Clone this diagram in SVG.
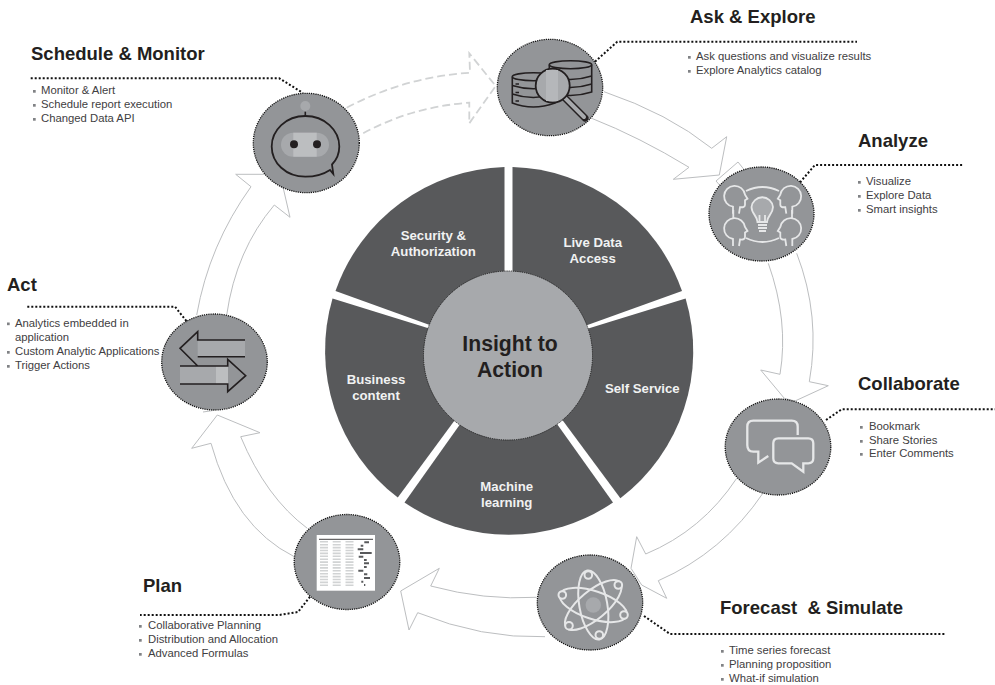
<svg xmlns="http://www.w3.org/2000/svg" width="995" height="685" viewBox="0 0 995 685">
<style>
text{font-family:"Liberation Sans",Arial,sans-serif}
.t{font-size:18.5px;font-weight:700;fill:#231f20}
.l{font-size:11.3px;fill:#414042}
.w{font-size:13.2px;font-weight:700;fill:#f1f2f2;text-anchor:middle}
.c{font-size:21.2px;font-weight:700;fill:#231f20;text-anchor:middle}
.seg{fill:#58595b}
.n{fill:#939598;stroke:#111;stroke-width:1.300;stroke-dasharray:1.200 1}
.a{fill:#fff;stroke:#bcbec0;stroke-width:1}
.d{fill:#fff;stroke:#d1d3d4;stroke-width:1.800;stroke-dasharray:8 4}
.ld{fill:none;stroke:#111;stroke-width:2;stroke-dasharray:2 2}
.k{fill:none;stroke:#231f20;stroke-width:1.600}
.g{fill:none;stroke:#e6e7e8;stroke-width:1.800}
.b{fill:#808285}
</style>
<defs>
<path id="head" d="M-3,17V10A10.500,10.500 0 1 1 9,-2L11.500,2 9,3.500V8Q9,11 4,10.500L3,17"/>
</defs>

<g id="connectors">
<path class="d" d="M346.700,107.700Q405,77 470,72.700L469.300,53.300 495.700,86 469.300,123.300V102.700Q410,107 360,135"/>
<path class="a" d="M604,91.700Q668.200,113.400 711.700,148.300L726.700,136.700 719.300,175 673.300,179.300 689,167.300Q639.600,137.200 591.700,118.300"/>
<path class="a" d="M716,181L738,162 746,172 724,190Z"/>
<path class="a" d="M768.300,263.300Q788.900,321.200 780,374.300L760.700,370 784.300,398.300 795,401 828.300,385.700 809.300,381.700Q821,316.500 796.700,253.300"/>
<path class="a" d="M736.700,478.300Q702.200,530.500 645.700,554L636.700,536.700 631,568.300 641.700,585 666.700,598.300 658.300,580.700Q722.800,552.600 763.300,492.700"/>
<path class="a" d="M536.700,597.300Q484,600.500 430.700,586L439.300,568.300 400.700,591 409,630 417.700,612.700Q481.500,638.700 545,636.700"/>
<path class="a" d="M294.300,556.700Q234,526.600 211,443.300L191.700,448.300 217.300,415 260,432.700 240.700,436.700Q266,497.500 307.300,528.300"/>
<path class="a" d="M203,412L213,410.500"/>
<path class="a" d="M196.700,315Q209,245 251,186.700L235.700,174.300H266.700L283.300,188.300 290,217.300 274.300,205Q236,250 226.700,315"/>
<path class="ld" d="M30.700,78.300H279.300L303,93"/>
<path class="ld" d="M595,61.700L617.300,41.700H857"/>
<path class="ld" d="M800,182.300L815,165H964"/>
<path class="ld" d="M826,420L841.700,409.300H995"/>
<path class="ld" d="M644,616L670,634H945"/>
<path class="ld" d="M310,596.700L298,612 279,615H140"/>
<path class="ld" d="M27.300,306.700H175L188,323"/>
</g>

<g id="wheel">
<g id="seg-live"><path class="seg" d="M512.500,167A185,185 0 0 1 682,291L512.500,352Z"/><text class="w" x="592.700" y="246.700">Live Data</text><text class="w" x="592.700" y="262.700">Access</text></g>
<g id="seg-self"><path class="seg" d="M685.600,298.600A185,185 0 0 1 620.400,498.300L512,352Z"/><text class="w" x="642.300" y="392.700">Self Service</text></g>
<g id="seg-ml"><path class="seg" d="M613,502.500A185,185 0 0 1 404.500,502.500L508.500,356Z"/><text class="w" x="506.700" y="491">Machine</text><text class="w" x="506.700" y="506.700">learning</text></g>
<g id="seg-biz"><path class="seg" d="M397.800,497.500A185,185 0 0 1 332.500,298.600L505,352Z"/><text class="w" x="376" y="384">Business</text><text class="w" x="376" y="400">content</text></g>
<g id="seg-sec"><path class="seg" d="M335.500,291A185,185 0 0 1 504.500,167V352Z"/><text class="w" x="433.300" y="240">Security &amp;</text><text class="w" x="433.300" y="256">Authorization</text></g>
<g id="hub"><circle cx="508" cy="355.500" r="84.500" fill="#a7a9ac" stroke="#222" stroke-width="1" stroke-dasharray="1.200 1"/><text class="c" x="510" y="350.700">Insight to</text><text class="c" x="510" y="376.700">Action</text></g>
</g>

<g id="node-ask">
<ellipse class="n" cx="550" cy="87.500" rx="52.700" ry="48.200"/>
<g class="k"><path d="M549.300,64.700V92Q570,99 591.700,92V64.700"/><ellipse cx="570.500" cy="64.700" rx="21.200" ry="4"/><path d="M549.300,76Q570,83 591.700,76M549.300,84Q570,91 591.700,84"/>
<path d="M512.300,76.700V103Q533,111 555,103V76.700"/><ellipse cx="533.500" cy="76.700" rx="21.200" ry="4" fill="#939598" style="fill:#939598"/><path d="M512.300,85.500Q533,92 555,85.500M512.300,94Q533,101 555,94"/></g>
<path d="M515.500,84H519M515.500,92.500H519M515.500,101H519" class="k"/>
<path d="M564,97L585,118" stroke="#231f20" stroke-width="7" stroke-linecap="round"/><path d="M565,98L584,117" stroke="#a7a9ac" stroke-width="4" stroke-linecap="round"/>
<circle cx="552.700" cy="85.700" r="17" fill="#a7a9ac" stroke="#231f20" stroke-width="1.800"/>
<rect x="546" y="70" width="12" height="31" fill="#b5b7ba"/>
<text class="t" x="690" y="23">Ask &amp; Explore</text>
<rect class="b" x="688" y="56" width="2.700" height="2.700"/><text class="l" x="696" y="60">Ask questions and visualize results</text>
<rect class="b" x="688" y="70" width="2.700" height="2.700"/><text class="l" x="696" y="74">Explore Analytics catalog</text>
</g>

<g id="node-analyze">
<ellipse class="n" cx="761.500" cy="214" rx="52.500" ry="47"/>
<g class="g">
<use href="#head" x="736" y="196.700"/><use href="#head" x="736" y="229"/>
<use href="#head" transform="translate(789.300,196.700) scale(-1,1)"/><use href="#head" transform="translate(789.300,229) scale(-1,1)"/>
<path d="M746,191Q762.500,183 779,191M746,238Q762.500,246 779,238M733.300,210V218M792,210V218"/>
<path d="M757.500,222C757.500,216 751.500,214 751.500,207A10.800,10.800 0 0 1 773,207C773,214 767,216 767,222Z" style="fill:#a7a9ac"/>
<path d="M759.500,215V222M765,215V222M758,225H767M758,228H767M759,231H766"/>
</g>
<text class="t" x="858" y="147">Analyze</text>
<rect class="b" x="858" y="181" width="2.700" height="2.700"/><text class="l" x="866" y="185">Visualize</text>
<rect class="b" x="858" y="195" width="2.700" height="2.700"/><text class="l" x="866" y="199">Explore Data</text>
<rect class="b" x="858" y="209" width="2.700" height="2.700"/><text class="l" x="866" y="213">Smart insights</text>
</g>

<g id="node-collaborate">
<ellipse class="n" cx="778" cy="447" rx="52.800" ry="48"/>
<g class="g" style="stroke-width:2.300px">
<path d="M797.700,435V426.700Q797.700,420.700 791.700,420.700H753.300Q747.300,420.700 747.300,426.700V445Q747.300,451.700 753.300,451.700H758.300V462.700L768.300,456"/>
<path d="M778.300,438.300H808.300Q813.300,438.300 813.300,443.300V458.300Q813.300,463.300 808.300,463.300H803.300V471.700L791.700,463.300H778.300Q773.300,463.300 773.300,458.300V443.300Q773.300,438.300 778.300,438.300Z"/>
</g>
<text class="t" x="858" y="390">Collaborate</text>
<rect class="b" x="860" y="426" width="2.700" height="2.700"/><text class="l" x="869" y="430">Bookmark</text>
<rect class="b" x="860" y="440" width="2.700" height="2.700"/><text class="l" x="869" y="444">Share Stories</text>
<rect class="b" x="860" y="453" width="2.700" height="2.700"/><text class="l" x="869" y="457">Enter Comments</text>
</g>

<g id="node-forecast">
<ellipse class="n" cx="590" cy="602.500" rx="52.700" ry="47.500"/>
<g class="g" style="stroke-width:2px">
<ellipse cx="593.300" cy="605" rx="14" ry="35" transform="rotate(-10 593.300 605)"/>
<ellipse cx="593.300" cy="605" rx="35" ry="14" transform="rotate(-40 593.300 605)"/>
<ellipse cx="593.300" cy="605" rx="35" ry="14" transform="rotate(18 593.300 605)"/>
<g style="fill:#939598"><circle cx="588.300" cy="575" r="3.800"/><circle cx="618.300" cy="585" r="3.800"/><circle cx="624" cy="615" r="3.800"/><circle cx="599.300" cy="635" r="3.800"/><circle cx="569" cy="625.700" r="3.800"/><circle cx="562.300" cy="595" r="3.800"/></g>
</g>
<circle cx="593.300" cy="605" r="7.700" fill="#a7a9ac"/>
<text class="t" x="720" y="614" xml:space="preserve">Forecast  &amp; Simulate</text>
<rect class="b" x="721" y="650" width="2.700" height="2.700"/><text class="l" x="729" y="654">Time series forecast</text>
<rect class="b" x="721" y="664" width="2.700" height="2.700"/><text class="l" x="729" y="668">Planning proposition</text>
<rect class="b" x="721" y="678" width="2.700" height="2.700"/><text class="l" x="729" y="682">What-if simulation</text>
</g>

<g id="node-plan">
<ellipse class="n" cx="347" cy="562" rx="52.800" ry="47.500"/>
<rect x="316.700" y="535" width="58.300" height="55.700" fill="#fff"/>
<path d="M319,539.300H373" stroke="#414042" stroke-width="1"/>
<path d="M324,541V587M336.700,541V587M349.500,541V587" stroke="#d1d3d4" stroke-width="8" stroke-dasharray="1.600 1.300"/>
<path stroke="#58595b" stroke-width="2" d="M364.300,542.300H369M360.700,545.700H363.300M357.700,549.300H363.300M360,553H371.700M358.700,556.700H363.300M364,560H366.700M364,563.300H369M364,567H366.700M358.300,570.700H363.300M364,574.300H367.300M364,578H370M361.300,581.700H363.300M364,585H365.300"/>
<text class="t" x="143" y="591.700">Plan</text>
<rect class="b" x="139" y="625" width="2.700" height="2.700"/><text class="l" x="148" y="629">Collaborative Planning</text>
<rect class="b" x="139" y="639" width="2.700" height="2.700"/><text class="l" x="148" y="643">Distribution and Allocation</text>
<rect class="b" x="139" y="653" width="2.700" height="2.700"/><text class="l" x="148" y="657">Advanced Formulas</text>
</g>

<g id="node-act">
<ellipse class="n" cx="214.500" cy="362" rx="52.800" ry="48"/>
<rect x="197.700" y="340" width="47.300" height="16.700" fill="#a7a9ac"/>
<rect x="180" y="366" width="47.700" height="18" fill="#a7a9ac"/>
<rect x="216" y="366" width="12" height="18" fill="#bcbec0"/>
<path class="k" d="M245,340H197.700V331.700L180,348.300 197.700,366H227.700V359.300L245.700,375.700 227.700,391.700V384H180M180,366H197.700M197.700,356.700H245"/>
<text class="t" x="7" y="291">Act</text>
<rect class="b" x="7" y="322.500" width="2.700" height="2.700"/><text class="l" x="15" y="326.700">Analytics embedded in</text>
<text class="l" x="15" y="341">application</text>
<rect class="b" x="7" y="351" width="2.700" height="2.700"/><text class="l" x="15" y="355">Custom Analytic Applications</text>
<rect class="b" x="7" y="365" width="2.700" height="2.700"/><text class="l" x="15" y="369">Trigger Actions</text>
</g>

<g id="node-schedule">
<ellipse class="n" cx="306.300" cy="143" rx="53" ry="49.700"/>
<circle cx="305.300" cy="106" r="5" fill="#a7a9ac"/>
<path class="k" d="M305.300,111.700V116"/>
<path d="M330,170Q320,176.700 305.300,176.700C286,176.700 271.700,163 271.700,146.500C271.700,130 286,116 305.300,116C324.500,116 339.300,130 339.300,146.500Q339.300,157 332,164.500L333.300,174Z" fill="none" stroke="#231f20" stroke-width="1.800"/>
<rect x="281" y="132.700" width="48" height="24" rx="12" fill="#a7a9ac"/>
<rect x="293.300" y="132.700" width="23.400" height="24" fill="#bcbec0"/>
<circle cx="294" cy="144.300" r="4" fill="#231f20"/><circle cx="317" cy="144.300" r="4" fill="#231f20"/>
<text class="t" x="31" y="60">Schedule &amp; Monitor</text>
<rect class="b" x="33" y="90" width="2.700" height="2.700"/><text class="l" x="41" y="94">Monitor &amp; Alert</text>
<rect class="b" x="33" y="104" width="2.700" height="2.700"/><text class="l" x="41" y="108.300">Schedule report execution</text>
<rect class="b" x="33" y="118" width="2.700" height="2.700"/><text class="l" x="41" y="122.300">Changed Data API</text>
</g>
</svg>
